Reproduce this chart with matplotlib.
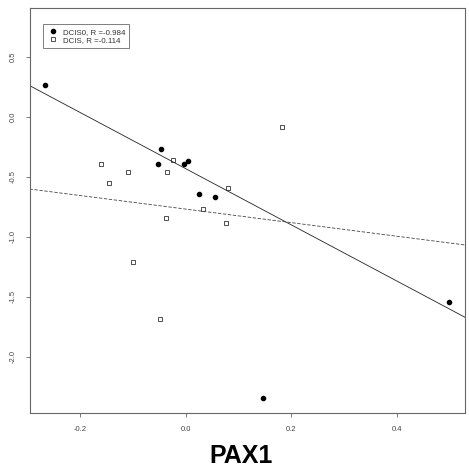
import numpy as np
import matplotlib.pyplot as plt

plt.rcParams['font.family'] = ['Liberation Sans', 'DejaVu Sans']

# DCIS0 (filled circles)
dcis0_x = [-0.267, -0.047, -0.053, -0.003, 0.004, 0.025, 0.056, 0.147, 0.499]
dcis0_y = [0.264, -0.267, -0.392, -0.392, -0.369, -0.642, -0.669, -2.347, -1.544]

# DCIS (open squares)
dcis_x = [-0.161, -0.145, -0.109, -0.024, -0.035, -0.037, 0.033, 0.081, 0.076, 0.183, -0.100, -0.049]
dcis_y = [-0.397, -0.550, -0.458, -0.361, -0.458, -0.842, -0.767, -0.592, -0.886, -0.086, -1.211, -1.689]

# fitted lines (intercept, slope)
fit_dcis0 = (-0.433, -2.340)
fit_dcis = (-0.770, -0.565)

labels = ['DCIS0, R =-0.984', 'DCIS, R =-0.114']

fig = plt.figure(figsize=(4.69, 4.71), dpi=100)
ax = fig.add_axes([0.0629, 0.1231, 0.9286, 0.8609])

ax.plot(dcis0_x, dcis0_y, 'o', color='black', markersize=3, label=labels[0], linestyle='none')
ax.plot(dcis_x, dcis_y, 's', markerfacecolor='white', markeredgecolor='#333333',
        markeredgewidth=0.6, markersize=3, label=labels[1], linestyle='none')

ax.axline((0, fit_dcis0[0]), slope=fit_dcis0[1], color='#222222', linewidth=0.6)
ax.axline((0, fit_dcis[0]), slope=fit_dcis[1], color='#444444', linewidth=0.6, linestyle=(0, (4, 2)))

ax.set_xlim(-0.296, 0.5295)
ax.set_ylim(-2.47, 0.91)
ax.set_xticks([-0.2, 0.0, 0.2, 0.4])
ax.set_yticks([0.5, 0.0, -0.5, -1.0, -1.5, -2.0])
ax.set_xticklabels(['-0.2', '0.0', '0.2', '0.4'])
ax.set_yticklabels(['0.5', '0.0', '-0.5', '-1.0', '-1.5', '-2.0'], rotation=90, va='center')
ax.tick_params(labelsize=5.5, labelcolor='#444444', color='#666666', length=3, width=0.6, pad=6)
for s in ax.spines.values():
    s.set_color('#666666')
    s.set_linewidth(0.8)

ax.set_xlabel('PAX1', fontsize=18, fontweight='bold')
ax.xaxis.set_label_coords(0.485, -0.124)
ax.xaxis.label.set_va('baseline')

leg = ax.legend(loc='upper left', bbox_to_anchor=(0.031, 0.959), fontsize=5.7, frameon=True,
                fancybox=False, edgecolor='#444444', handlelength=1.5, handletextpad=0.5,
                borderpad=0.5, labelspacing=0.1, borderaxespad=0)
leg.get_frame().set_linewidth(0.6)
for t in leg.get_texts():
    t.set_color('#333333')

fig.savefig('out.png', dpi=100)
